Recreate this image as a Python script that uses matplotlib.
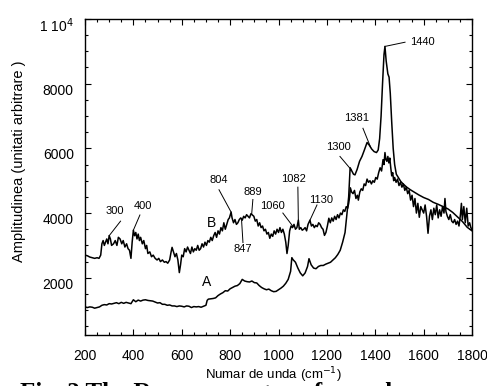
import numpy as np
import matplotlib
matplotlib.use("Agg")
from matplotlib import pyplot as plt
from matplotlib.ticker import MultipleLocator, FuncFormatter
import matplotlib.transforms as mtransforms

# curve A: wavenumber (cm-1) and amplitude
wn_a = [200, 210, 220, 230, 240, 250, 260, 270, 280, 290, 300, 310, 320, 330,
        340, 350, 360, 370, 380, 390, 400, 410, 420, 430, 440, 450, 460, 470,
        480, 490, 500, 510, 520, 530, 540, 550, 560, 570, 580, 590, 600, 610,
        620, 630, 640, 650, 660, 670, 680, 690, 700, 705, 710, 720, 730, 740,
        750, 760, 770, 780, 790, 800, 810, 820, 830, 840, 850, 860, 870, 880,
        890, 900, 910, 920, 930, 940, 950, 960, 970, 980, 990, 1000, 1010,
        1020, 1030, 1040, 1050, 1055, 1060, 1070, 1080, 1090, 1100, 1110, 1120,
        1126, 1135, 1145, 1155, 1165, 1175, 1185, 1195, 1205, 1215, 1225, 1235,
        1245, 1255, 1265, 1275, 1283, 1290, 1296, 1303, 1310, 1316, 1325, 1335,
        1345, 1355, 1366, 1375, 1385, 1395, 1405, 1412, 1418, 1424, 1430, 1436,
        1440, 1445, 1452, 1457, 1462, 1468, 1474, 1480, 1487, 1495, 1505, 1515,
        1530, 1545, 1560, 1580, 1600, 1620, 1640, 1660, 1680, 1700, 1720, 1740,
        1760, 1780, 1800]
amp_a = [1100, 1080, 1100, 1090, 1060, 1080, 1100, 1150, 1170, 1160, 1200, 1190,
         1210, 1230, 1200, 1240, 1210, 1240, 1220, 1200, 1320, 1260, 1310, 1280,
         1310, 1320, 1300, 1290, 1280, 1250, 1220, 1230, 1180, 1180, 1150, 1160,
         1130, 1130, 1110, 1130, 1120, 1100, 1130, 1120, 1080, 1110, 1100, 1110,
         1090, 1120, 1150, 1300, 1340, 1350, 1360, 1380, 1450, 1500, 1540, 1600,
         1590, 1660, 1700, 1740, 1760, 1820, 1950, 1900, 1880, 1870, 1900, 1850,
         1840, 1760, 1700, 1660, 1630, 1650, 1600, 1570, 1580, 1630, 1680, 1740,
         1830, 1950, 2200, 2620, 2560, 2480, 2300, 2150, 2060, 2150, 2350, 2590,
         2400, 2300, 2280, 2350, 2380, 2380, 2420, 2450, 2480, 2550, 2620, 2720,
         2850, 3100, 3400, 4000, 4500, 5400, 5300, 5200, 5180, 5350, 5600, 5750,
         5950, 6180, 6100, 5980, 5900, 5870, 5950, 6300, 7000, 8000, 8900, 9150,
         8700, 8300, 8200, 7700, 6800, 6000, 5500, 5200, 5100, 4980, 4900, 4800,
         4720, 4650, 4560, 4480, 4420, 4330, 4270, 4200, 4130, 4020, 3880, 3740,
         3560, 3450]

# curve B: wavenumber (cm-1) and amplitude
wn_b = [200, 210, 220, 230, 240, 250, 258, 265, 270, 275, 280, 285, 290, 295,
        300, 305, 310, 318, 325, 332, 338, 345, 352, 358, 365, 372, 378, 384,
        390, 395, 400, 405, 410, 415, 420, 425, 430, 437, 443, 450, 455, 460,
        468, 475, 482, 490, 498, 505, 512, 520, 528, 535, 542, 550, 556, 560,
        566, 572, 578, 584, 590, 595, 600, 606, 612, 618, 624, 630, 636, 642,
        648, 654, 660, 666, 672, 678, 684, 690, 696, 702, 708, 714, 720, 726,
        732, 738, 744, 750, 756, 762, 768, 774, 780, 786, 792, 797, 804, 808,
        814, 820, 826, 832, 838, 844, 850, 856, 862, 868, 874, 880, 886, 892,
        898, 904, 910, 916, 922, 928, 934, 940, 946, 952, 958, 964, 970, 976,
        982, 988, 994, 1000, 1006, 1012, 1018, 1024, 1030, 1035, 1040, 1046,
        1052, 1058, 1064, 1070, 1076, 1082, 1086, 1092, 1098, 1104, 1110, 1116,
        1122, 1130, 1136, 1142, 1148, 1154, 1160, 1166, 1172, 1178, 1184, 1190,
        1196, 1202, 1208, 1214, 1220, 1226, 1232, 1238, 1244, 1250, 1256, 1262,
        1268, 1274, 1280, 1286, 1290, 1294, 1297, 1302, 1308, 1314, 1320, 1326,
        1330, 1336, 1342, 1348, 1354, 1360, 1366, 1372, 1378, 1384, 1390, 1396,
        1402, 1408, 1414, 1420, 1426, 1432, 1436, 1440, 1444, 1448, 1452, 1456,
        1460, 1464, 1468, 1472, 1476, 1480, 1486, 1492, 1498, 1504, 1510, 1516,
        1522, 1528, 1534, 1540, 1546, 1552, 1558, 1564, 1570, 1576, 1582, 1588,
        1594, 1600, 1606, 1612, 1618, 1624, 1630, 1636, 1642, 1648, 1654, 1660,
        1666, 1672, 1678, 1684, 1688, 1692, 1698, 1704, 1710, 1716, 1722, 1728,
        1734, 1740, 1746, 1752, 1756, 1760, 1766, 1772, 1778, 1784, 1790, 1795,
        1800]
amp_b = [2700, 2680, 2640, 2620, 2600, 2620, 2600, 2700, 3050, 3150, 3000, 3100,
         3200, 3050, 3300, 3200, 3000, 3050, 3150, 3000, 3250, 3200, 3050, 3150,
         2950, 3050, 2900, 2850, 2600, 3100, 3470, 3300, 3400, 3200, 3350, 3150,
         3250, 3050, 3150, 2900, 3000, 2750, 2800, 2650, 2700, 2600, 2550, 2600,
         2500, 2550, 2480, 2500, 2450, 2550, 2800, 2940, 2800, 2650, 2750, 2550,
         2160, 2400, 2700, 2650, 2900, 2800, 2950, 2850, 2750, 2950, 2800, 2900,
         2850, 3000, 2850, 2900, 3050, 2950, 3100, 3000, 3150, 3100, 3250, 3150,
         3300, 3400, 3250, 3450, 3350, 3550, 3450, 3700, 3500, 3650, 3800, 3850,
         4030, 3850, 3700, 3800, 3650, 3700, 3800, 3850, 3780, 3900, 3850, 3950,
         3900, 3850, 3980, 3940, 3900, 3750, 3800, 3600, 3700, 3550, 3600, 3450,
         3500, 3350, 3400, 3220, 3350, 3280, 3450, 3350, 3500, 3400, 3550, 3400,
         3500, 3350, 3100, 2750, 3000, 3450, 3600, 3550, 3650, 3500, 3550, 3780,
         3500, 3550, 3470, 3500, 3550, 3450, 3650, 3780, 3600, 3650, 3550, 3620,
         3580, 3700, 3650, 3550, 3500, 3310, 3400, 3600, 3840, 3700, 3850, 3750,
         3900, 3800, 3950, 3850, 4000, 3950, 4100, 4050, 4200, 4150, 4300, 4500,
         4780, 4650, 4600, 4700, 4450, 4550, 4400, 4650, 4750, 4700, 4900, 4850,
         5050, 4950, 5000, 4900, 5000, 4950, 5100, 5050, 5250, 5400, 5300, 5650,
         5500, 5870, 5650, 5600, 5750, 5550, 5700, 5400, 5150, 5250, 5000, 5100,
         4950, 5050, 4850, 4950, 4800, 4900, 4700, 4800, 4600, 4700, 4400, 4550,
         4200, 4450, 4000, 4300, 3870, 4200, 4100, 4000, 4250, 3900, 3375, 3900,
         4100, 3800, 4150, 3950, 4250, 3850, 4100, 3900, 4200, 4000, 4450, 4050,
         3900, 3800, 3950, 3750, 3700, 3800, 3650, 3750, 3600, 3950, 4300, 3800,
         4200, 3700, 4150, 3600, 3700, 3550, 3500]

# band labels: text, curve, text position, leader start
bands = [
    ("300", "B", (324, 4060), (347, 3750)),
    ("400", "B", (440, 4220), (427, 3940)),
    ("804", "B", (754, 5030), (754, 4720)),
    ("847", "B", (853, 2900), (853, 3090)),
    ("889", "B", (894, 4650), (894, 4420)),
    ("1060", "B", (973, 4220), (1018, 4000)),
    ("1082", "B", (1064, 5060), (1080, 4800)),
    ("1130", "B", (1176, 4400), (1159, 4250)),
    ("1300", "A", (1246, 6030), (1254, 5750)),
    ("1381", "A", (1324, 6940), (1349, 6620)),
    ("1440", "A", (1593, 9280), (1523, 9280)),
]

plt.rcParams['font.family'] = ['Liberation Sans', 'DejaVu Sans']

fig = plt.figure(figsize=(4.87, 3.86), dpi=100)
ax = fig.add_axes([0.1745, 0.132, 0.7948, 0.819])

ax.plot(wn_a, amp_a, color='black', lw=1.1)
ax.plot(wn_b, amp_b, color='black', lw=1.1)

curves = {"A": (wn_a, amp_a), "B": (wn_b, amp_b)}
for label, key, (tx, ty), (sx, sy) in bands:
    xs, ys = curves[key]
    px = float(label)
    py = np.interp(px, xs, ys)
    ax.plot([sx, px], [sy, py], color='black', lw=0.7)
    ax.text(tx, ty, label, fontsize=8, ha='center', va='center')

ax.text(704, 1870, "A", fontsize=10, ha='center', va='center')
ax.text(721, 3690, "B", fontsize=10, ha='center', va='center')

ax.set_xlim(200, 1800)
ax.set_ylim(230, 10000)
ax.xaxis.set_major_locator(MultipleLocator(200))
ax.xaxis.set_minor_locator(MultipleLocator(50))
ax.yaxis.set_major_locator(MultipleLocator(2000))
ax.yaxis.set_minor_locator(MultipleLocator(500))
ax.yaxis.set_major_formatter(
    FuncFormatter(lambda v, p: "1 10$^4$" if v >= 10000 else "%d" % v))

ax.tick_params(which='both', direction='in', top=True, right=True,
               labelsize=10, width=0.8)
ax.tick_params(which='major', length=4.5)
ax.tick_params(which='minor', length=2.5)
ax.tick_params(axis='x', pad=10)
ax.tick_params(axis='y', pad=8)

# y labels sit a little below their ticks
offset = mtransforms.ScaledTranslation(0, -4 / 72, fig.dpi_scale_trans)
for lab in ax.get_yticklabels():
    lab.set_transform(lab.get_transform() + offset)

for sp in ax.spines.values():
    sp.set_linewidth(1.0)

ax.set_xlabel("Numar de unda (cm$^{-1}$)", fontsize=9.5)
ax.xaxis.set_label_coords(0.486, -0.095)
ax.set_ylabel("Amplitudinea (unitati arbitrare )", fontsize=10.5)
ax.yaxis.set_label_coords(-0.152, 0.55)

# caption runs off the bottom edge, only its top shows
fig.text(20 / 487, (386 - 400) / 386, "Fig. 2 The Raman spectra of samples",
         family='Liberation Serif', weight='bold', fontsize=18,
         ha='left', va='baseline', zorder=0)

fig.savefig("out.png", dpi=100)
